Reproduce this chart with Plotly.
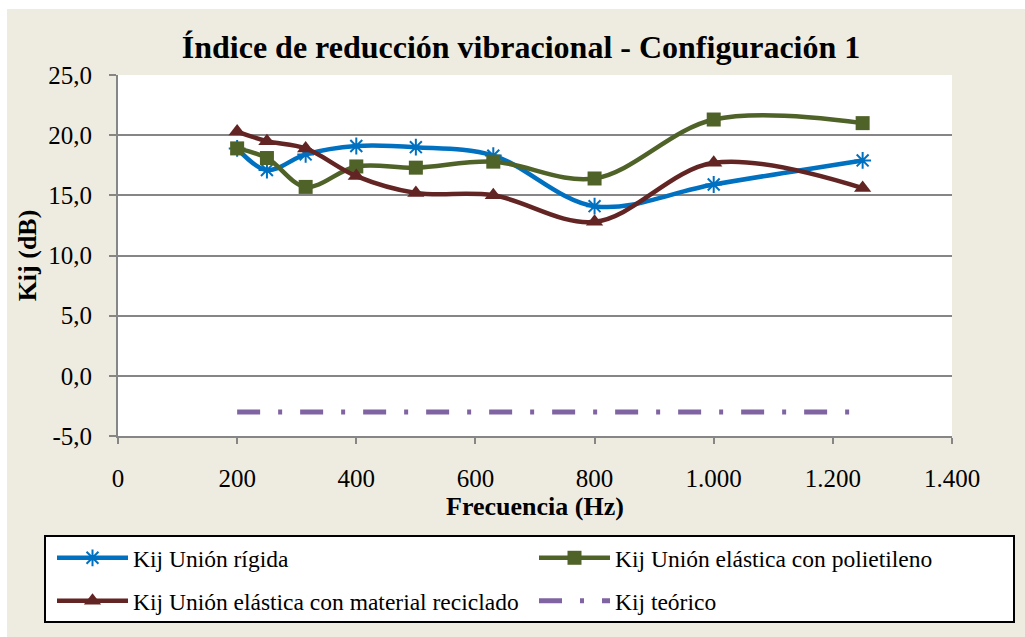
import plotly.graph_objects as go

# Frequency bands (Hz) and measured vibration reduction index Kij (dB)
frecuencias = [200, 250, 315, 400, 500, 630, 800, 1000, 1250]
kij_rigida = [18.9, 17.1, 18.4, 19.1, 19.0, 18.3, 14.1, 15.9, 17.9]
kij_polietileno = [18.9, 18.1, 15.7, 17.4, 17.3, 17.8, 16.4, 21.3, 21.0]
kij_reciclado = [20.3, 19.5, 18.9, 16.6, 15.2, 15.0, 12.8, 17.7, 15.6]
kij_teorico = [-3.0] * len(frecuencias)

nombres = [
    "Kij Unión rígida",
    "Kij Unión elástica con polietileno",
    "Kij Unión elástica con material reciclado",
    "Kij teórico",
]

x_ticks = [0, 200, 400, 600, 800, 1000, 1200, 1400]
y_ticks = [-5, 0, 5, 10, 15, 20, 25]
y_ticktext = [f"{v:.1f}".replace(".", ",") for v in y_ticks]

W, H = 1025, 637
ML, MR, MT, MB = 118, 73, 75, 201
PW, PH = W - ML - MR, H - MT - MB

SERIF = "Liberation Serif, Times New Roman, serif"
BEIGE = "#EEECE1"
GRID = "#868686"


def px(x):
    return (x - ML) / PW


def py(y):
    return (H - MB - y) / PH


fig = go.Figure()

fig.add_trace(go.Scatter(
    x=frecuencias, y=kij_rigida, name=nombres[0], legend="legend", showlegend=True,
    mode="lines+markers", line=dict(color="#0070C0", width=4.5, shape="spline", smoothing=1),
    marker=dict(symbol="asterisk-open", size=14, color="#0070C0", line=dict(width=2, color="#0070C0")),
))
fig.add_trace(go.Scatter(
    x=frecuencias, y=kij_polietileno, name=nombres[1], legend="legend2", showlegend=True,
    mode="lines+markers", line=dict(color="#4F6228", width=4.5, shape="spline", smoothing=1),
    marker=dict(symbol="square", size=14, color="#4F6228"),
))
fig.add_trace(go.Scatter(
    x=frecuencias, y=kij_reciclado, name=nombres[2], legend="legend3", showlegend=True,
    mode="lines+markers", line=dict(color="#632523", width=4.5, shape="spline", smoothing=1),
    marker=dict(symbol="triangle-up", size=15, color="#632523"),
))
fig.add_trace(go.Scatter(
    x=frecuencias, y=kij_teorico, name=nombres[3], legend="legend4", showlegend=True,
    mode="lines", line=dict(color="#8064A2", width=5, dash="23px,18px,4px,18px"),
))


def leyenda(x_px, y_px):
    return dict(
        visible=True,
        x=x_px / W, y=1 - y_px / H, xref="container", yref="container",
        xanchor="left", yanchor="middle", orientation="h",
        bgcolor="rgba(0,0,0,0)", borderwidth=0, itemwidth=71,
        font=dict(family=SERIF, size=23.5, color="black"),
    )


fig.update_layout(
    width=W, height=H,
    margin=dict(l=ML, r=MR, t=MT, b=MB),
    paper_bgcolor=BEIGE,
    plot_bgcolor="white",
    separators=",.",
    showlegend=True,
    title=dict(
        text="<b>Índice de reducción vibracional - Configuración 1</b>",
        font=dict(family=SERIF, size=32, color="black"),
        x=521 / W, xanchor="center", xref="container",
        y=1 - 47 / H, yanchor="middle", yref="container",
    ),
    xaxis=dict(
        range=[0, 1400], tickvals=x_ticks,
        tickformat=",d",
        showgrid=False, zeroline=False,
        showline=True, linecolor=GRID, linewidth=2,
        ticks="outside", ticklen=6, tickcolor=GRID, tickwidth=1.5,
        ticklabelstandoff=13,
        tickfont=dict(family=SERIF, size=25, color="black"),
        title=dict(text="<b>Frecuencia (Hz)</b>", font=dict(family=SERIF, size=26, color="black"), standoff=2),
    ),
    yaxis=dict(
        range=[-5, 25], tickvals=y_ticks, ticktext=y_ticktext,
        showgrid=True, gridcolor=GRID, gridwidth=1.5, zeroline=False,
        showline=True, linecolor=GRID, linewidth=2,
        ticks="outside", ticklen=7, tickcolor=GRID, tickwidth=1.5,
        ticklabelstandoff=12,
        tickfont=dict(family=SERIF, size=25, color="black"),
        title=dict(text="<b>Kij (dB)</b>", font=dict(family=SERIF, size=26, color="black"), standoff=4),
    ),
    legend=leyenda(52, 558),
    legend2=leyenda(534, 558),
    legend3=leyenda(52, 601),
    legend4=leyenda(534, 601),
    shapes=[
        # white strips along the top and left edges of the page
        dict(type="rect", xref="paper", yref="paper", x0=px(0), x1=px(W), y0=py(9), y1=py(0),
             fillcolor="white", line=dict(width=0), layer="below"),
        dict(type="rect", xref="paper", yref="paper", x0=px(0), x1=px(7), y0=py(H), y1=py(0),
             fillcolor="white", line=dict(width=0), layer="below"),
        # legend frame
        dict(type="rect", xref="paper", yref="paper", x0=px(45), x1=px(1014), y0=py(622), y1=py(536),
             fillcolor="white", line=dict(color="black", width=2), layer="below"),
    ],
)

fig.write_html("out.html")
